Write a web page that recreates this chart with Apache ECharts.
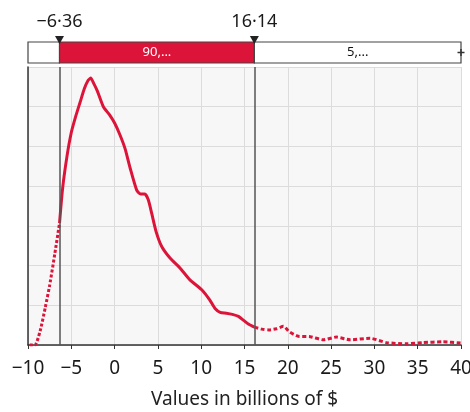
<!DOCTYPE html>
<html><head><meta charset="utf-8">
<script src="https://cdn.jsdelivr.net/npm/echarts@6/dist/echarts.min.js"></script>
<style>html,body{margin:0;padding:0;background:#fff}#c{width:470px;height:412px}</style>
</head><body><div id="c"></div>
<script>
// x ticks
const xMin = -10, xMax = 40, xStep = 5;
const xTitle = 'Values in billions of $';
// cut points of the confidence band
const cutValues = [-6.36, 16.14];
const cutLabels = ['\u22126\u00b736', '16\u00b714'];
// band segments: [start, end, label]
const segStarts = [-10, -6.36, 16.14];
const segEnds = [-6.36, 16.14, 40];
const segLabels = ['', '90,...', '5,...'];
// density curve, left tail (dotted)
const leftX = [-9.8, -9.2, -8.6, -8.0, -7.5, -6.9, -6.36];
const leftY = [0, 0, 0.35, 0.95, 1.5, 2.3, 3.07];
// density curve, middle (solid)
const midX = [-6.36, -6.0, -5.5, -5.0, -4.5, -4.0, -3.5, -3.1, -2.76, -2.4, -2.0, -1.3, -0.6, 0.0, 0.6, 1.2, 1.8, 2.55, 3.0, 3.5, 3.9, 4.3, 4.8, 5.44, 6.4, 7.55, 8.7, 10.06, 11.0, 11.6, 12.2, 12.9, 13.6, 14.3, 14.9, 15.5, 16.14];
const midY = [3.07, 3.95, 4.75, 5.35, 5.75, 6.1, 6.45, 6.65, 6.72, 6.58, 6.4, 6.0, 5.8, 5.59, 5.3, 4.95, 4.45, 3.9, 3.8, 3.8, 3.65, 3.3, 2.85, 2.48, 2.19, 1.94, 1.64, 1.39, 1.13, 0.92, 0.82, 0.8, 0.77, 0.72, 0.62, 0.52, 0.45];
// density curve, right tail (dashed)
const rightX = [16.14, 17.0, 17.8, 18.7, 19.5, 20.2, 21.2, 22.6, 24.1, 25.6, 27.2, 29.5, 31.4, 33.7, 35.6, 37.9, 40];
const rightY = [0.45, 0.4, 0.38, 0.41, 0.47, 0.33, 0.22, 0.21, 0.13, 0.2, 0.13, 0.17, 0.06, 0.03, 0.06, 0.08, 0.05];

const RED = '#dc1439';
const FONT = '"Noto Sans", "Open Sans", sans-serif';
const zip = (a, b) => a.map((v, i) => [v, b[i]]);

const chart = echarts.init(document.getElementById('c'), null, {renderer: 'canvas'});
chart.setOption({
  animation: false,
  grid: [
    {left: 28, right: 9, top: 67, bottom: 67, show: true, backgroundColor: '#f7f7f7', borderWidth: 0,
     containLabel: false, outerBoundsMode: 'none'},
    {left: 28, right: 9, top: 42, height: 21, show: false, containLabel: false, outerBoundsMode: 'none'}
  ],
  xAxis: [
    {type: 'value', gridIndex: 0, min: xMin, max: xMax, interval: xStep,
     name: xTitle, nameLocation: 'middle', nameGap: 45,
     nameTextStyle: {fontFamily: FONT, fontSize: 19, color: '#222'},
     axisLine: {show: true, onZero: false, lineStyle: {color: '#333', width: 1.5}},
     axisTick: {show: true, length: 4, lineStyle: {color: '#333'}},
     axisLabel: {fontFamily: FONT, fontSize: 19, color: '#1a1a1a', margin: 14,
       formatter: v => String(v).replace('-', '\u2212')},
     splitLine: {show: true, lineStyle: {color: '#dcdcdc', width: 1}}},
    {type: 'value', gridIndex: 1, min: xMin, max: xMax, show: false}
  ],
  yAxis: [
    {type: 'value', gridIndex: 0, min: 0, max: 7, interval: 1,
     axisLine: {show: true, onZero: false, lineStyle: {color: '#333', width: 1.5}},
     axisTick: {show: false}, axisLabel: {show: false},
     splitLine: {show: true, lineStyle: {color: '#dcdcdc', width: 1}}},
    {type: 'value', gridIndex: 1, min: 0, max: 1, show: false}
  ],
  series: [
    {type: 'line', xAxisIndex: 0, yAxisIndex: 0, data: zip(leftX, leftY), smooth: 0.2,
     showSymbol: false, lineStyle: {color: RED, width: 3, type: [3, 2]}},
    {type: 'line', xAxisIndex: 0, yAxisIndex: 0, data: zip(midX, midY), smooth: 0.2,
     showSymbol: false, lineStyle: {color: RED, width: 3},
     markLine: {silent: true, symbol: 'none', label: {show: false},
       lineStyle: {color: '#555', width: 1.5, type: 'solid'},
       data: cutValues.map(v => ({xAxis: v}))}},
    {type: 'line', xAxisIndex: 0, yAxisIndex: 0, data: zip(rightX, rightY), smooth: 0.2,
     showSymbol: false, lineStyle: {color: RED, width: 3, type: [4, 2.5]}},
    {type: 'custom', xAxisIndex: 1, yAxisIndex: 1,
     data: segStarts.map((s, i) => [s, segEnds[i], segLabels[i], i]),
     renderItem: (params, api) => {
       const s = api.value(0), e = api.value(1), idx = api.value(3);
       const p0 = api.coord([s, 1]), p1 = api.coord([e, 0]);
       const isRed = idx === 1;
       return {type: 'group', children: [
         {type: 'rect', shape: {x: p0[0], y: p0[1], width: p1[0] - p0[0], height: p1[1] - p0[1]},
          style: {fill: isRed ? RED : '#fff', stroke: '#444', lineWidth: 1.2}},
         {type: 'text', x: (p0[0] + p1[0]) / 2, y: (p0[1] + p1[1]) / 2,
          style: {text: segLabels[idx], fill: isRed ? '#fff' : '#111', fontSize: 13, fontFamily: FONT,
                  align: 'center', verticalAlign: 'middle'}}
       ]};
     }},
    {type: 'custom', xAxisIndex: 1, yAxisIndex: 1,
     data: cutValues.map((v, i) => [v, i]),
     renderItem: (params, api) => {
       const v = api.value(0), i = api.value(1);
       const p = api.coord([v, 1]);
       return {type: 'group', children: [
         {type: 'polygon', shape: {points: [[p[0] - 4.5, p[1] - 6], [p[0] + 4.5, p[1] - 6], [p[0], p[1] + 2]]},
          style: {fill: '#222'}},
         {type: 'text', x: p[0], y: p[1] - 20,
          style: {text: cutLabels[i], fill: '#1a1a1a', fontSize: 18, fontFamily: FONT,
                  align: 'center', verticalAlign: 'middle'}}
       ]};
     }},
    {type: 'custom', xAxisIndex: 1, yAxisIndex: 1,
     data: [[xMax, 0.5]],
     renderItem: (params, api) => {
       const p = api.coord([api.value(0), api.value(1)]);
       return {type: 'group', children: [
         {type: 'line', shape: {x1: p[0] - 3.5, y1: p[1], x2: p[0] + 3.5, y2: p[1]}, style: {stroke: '#333', lineWidth: 1.5}},
         {type: 'line', shape: {x1: p[0], y1: p[1] - 3.5, x2: p[0], y2: p[1] + 3.5}, style: {stroke: '#333', lineWidth: 1.5}}
       ]};
     }}
  ]
});
</script></body></html>
